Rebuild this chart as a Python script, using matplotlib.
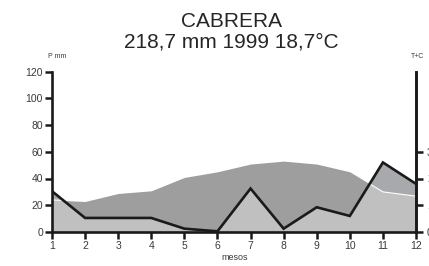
import numpy as np
import matplotlib
matplotlib.use("Agg")
import matplotlib.pyplot as plt

plt.rcParams['font.family'] = ['Liberation Sans', 'DejaVu Sans']

mesos = [1, 2, 3, 4, 5, 6, 7, 8, 9, 10, 11, 12]
precip = [30.5, 10.5, 10.5, 10.5, 2.5, 0.5, 32.5, 2.5, 18.5, 12, 52, 36]   # mm
temp = [12, 11.4, 14.4, 15.4, 20.4, 22.5, 25.4, 26.5, 25.4, 22.5, 15, 13.4]  # °C
titol = "CABRERA"
subtitol = "218,7 mm 1999 18,7°C"

x = np.array(mesos)
P = np.array(precip)
T = np.array(temp) * 2  # escala P = 2T

W, H = 429, 266
fig = plt.figure(figsize=(W / 100, H / 100), dpi=100)
ax = fig.add_axes([52 / W, 1 - 232 / H, (416 - 52) / W, (232 - 71.5) / H])

light = "#c0c0c0"
dark = "#9e9e9e"
humid = "#a8a9ad"

ax.fill_between(x, 0, P, color=light, lw=0)
ax.fill_between(x, T, P, where=P >= T, interpolate=True, color=humid, lw=0)
ax.fill_between(x, P, T, where=T >= P, interpolate=True, color=dark, lw=0)

# linia blanca de temperatura on P > T
xs = np.linspace(1, 12, 600)
Ti = np.interp(xs, x, T)
Pi = np.interp(xs, x, P)
ax.plot(xs, np.where(Pi > Ti, Ti, np.nan), color="white", lw=0.8)

ax.plot(x, P, color="#1a1a1a", lw=1.9, solid_joinstyle="miter")

ax.set_xlim(1, 12)
ax.set_ylim(0, 120)
ax.set_xticks(mesos)
ax.set_yticks(range(0, 121, 20))
for s in ["left", "bottom", "right"]:
    ax.spines[s].set_linewidth(1.9)
    ax.spines[s].set_color("#1a1a1a")
ax.spines["top"].set_visible(False)
ax.tick_params(axis="both", length=5, width=1.8, color="#1a1a1a",
               labelsize=7.5, labelcolor="#3a3a3a", pad=1.5)

ax2 = ax.twinx()
ax2.set_ylim(0, 120)
ax2.set_yticks([0, 20, 40, 60])
ax2.set_yticklabels(["0", "10", "20", "30"])
for s in ["left", "bottom", "top"]:
    ax2.spines[s].set_visible(False)
ax2.spines["right"].set_linewidth(1.9)
ax2.spines["right"].set_color("#1a1a1a")
ax2.tick_params(axis="y", length=5, width=1.8, color="#1a1a1a",
                labelsize=7.5, labelcolor="#3a3a3a", pad=3)

fig.text(231 / W, 1 - 27 / H, titol, ha="center", va="baseline", fontsize=15, color="#262626")
fig.text(231 / W, 1 - 47 / H, subtitol, ha="center", va="baseline", fontsize=15, color="#262626")
fig.text(57 / W, 1 - 57 / H, "P mm", ha="center", va="center", fontsize=5, color="#3a3a3a")
fig.text(418 / W, 1 - 57 / H, "T+C", ha="center", va="center", fontsize=5, color="#3a3a3a")
fig.text(235 / W, 1 - 257 / H, "mesos", ha="center", va="center", fontsize=6.5, color="#3a3a3a")

fig.savefig("out.png", dpi=100)
